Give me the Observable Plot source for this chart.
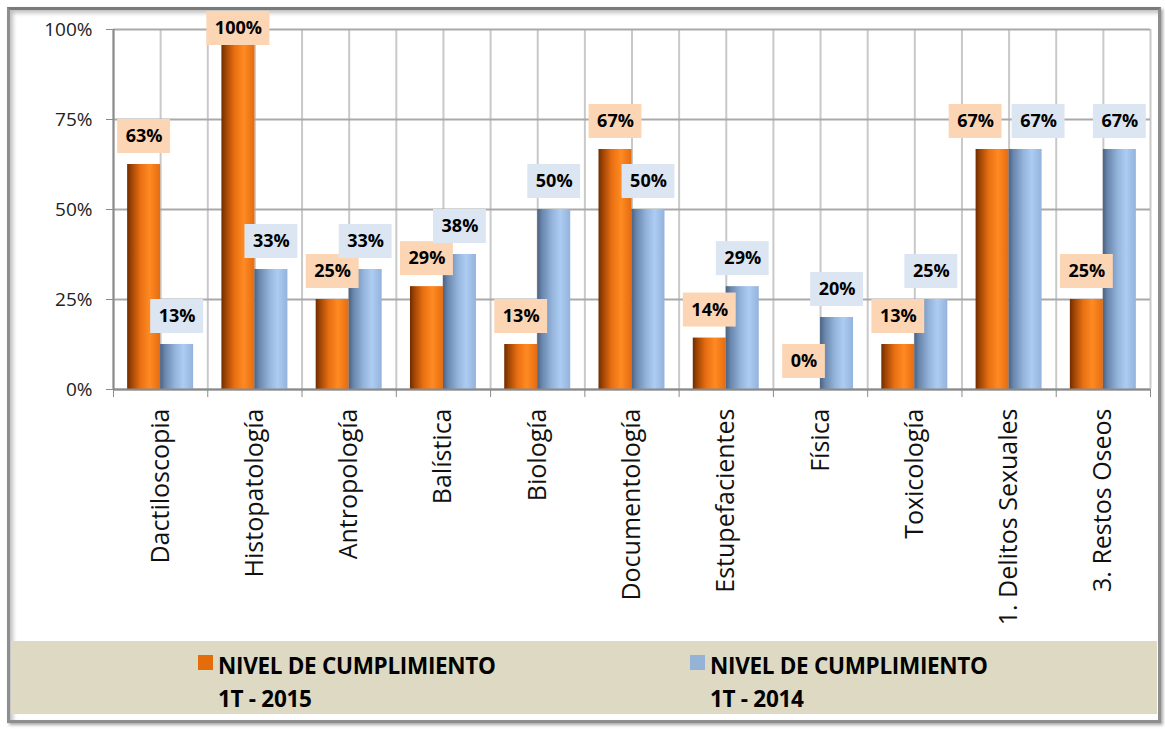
<!DOCTYPE html>
<html>
<head>
<meta charset="utf-8">
<script src="https://cdn.jsdelivr.net/npm/d3@7"></script>
<script src="https://cdn.jsdelivr.net/npm/@observablehq/plot@0.6"></script>
<style>
  html, body { margin: 0; padding: 0; background: #fff; }
  #page { position: relative; width: 1165px; height: 729px; overflow: hidden; font-family: "Open Sans", sans-serif; }
  #frame { position: absolute; left: 7px; top: 7px; width: 1148px; height: 710px; border: 3px solid #8e8e8e; border-top-color: #7a7a7a; box-shadow: inset 3px 3px 4px rgba(0,0,0,0.25), 2px 2px 3px rgba(0,0,0,0.35); background: #fff; }
  #chart { position: absolute; left: 0; top: 0; }
  #legend { position: absolute; left: 11px; top: 641px; width: 1146px; height: 73px; background: #DDD9C3; }
  .item { position: absolute; top: 8px; font-weight: 700; font-size: 22.5px; color: #000; line-height: 33px; letter-spacing: -0.3px; }
  .sw { position: absolute; left: -20px; top: 6px; width: 15px; height: 15px; }
</style>
</head>
<body>
<div id="page">
  <div id="frame"></div>
  <div id="chart"></div>
  <div id="legend"></div>
</div>
<script>
const categories = ["Dactiloscopia", "Histopatología", "Antropología", "Balística", "Biología", "Documentología", "Estupefacientes", "Física", "Toxicología", "1. Delitos Sexuales", "3. Restos Oseos"];
const values2015 = [62.5, 100, 25, 28.57, 12.5, 66.67, 14.29, 0, 12.5, 66.67, 25];
const values2014 = [12.5, 33.33, 33.33, 37.5, 50, 50, 28.57, 20, 25, 66.67, 66.67];
const seriesNames = [["NIVEL DE CUMPLIMIENTO", "1T - 2015"], ["NIVEL DE CUMPLIMIENTO", "1T - 2014"]];
const seriesColors = ["#E46C0A", "#95B3D7"];
const boxColors = ["#FCD5B4", "#DCE6F2"];
const yTicks = [0, 25, 50, 75, 100];

const W = 1165, H = 640, ML = 113, MR = 15, MT = 29, MB = 251;
const FONT = "Open Sans, sans-serif";
const n = categories.length;
const pxX = (W - ML - MR) / n;   // pixels per category unit
const pxY = (H - MT - MB) / 100; // pixels per percent

const bars = [];
categories.forEach((c, i) => {
  bars.push({i, s: 0, v: values2015[i], x1: i + 0.15, x2: i + 0.5});
  bars.push({i, s: 1, v: values2014[i], x1: i + 0.5, x2: i + 0.85});
});

// data label boxes
const boxH = 34, gap = 11, padX = 8, maxTopPx = 18;
function textW(t) { return (t.length - 1) * 10.2 + 16.5; }
const labels = bars.map(b => {
  const t = Math.round(b.v) + "%";
  const w = textW(t) + 2 * padX;
  let y1 = b.v + gap / pxY, y2 = y1 + boxH / pxY;
  const lim = 100 + maxTopPx / pxY;
  if (y2 > lim) { y2 = lim; y1 = y2 - boxH / pxY; }
  const cx = (b.x1 + b.x2) / 2;
  return {i: b.i, s: b.s, t, w, y1, y2, cx};
});
for (let i = 0; i < n; i++) {
  const o = labels.find(l => l.i === i && l.s === 0);
  const bl = labels.find(l => l.i === i && l.s === 1);
  const overlap = Math.min(o.y2, bl.y2) - Math.max(o.y1, bl.y1);
  if (overlap * pxY > boxH / 2) { o.cx -= 17 / pxX; bl.cx += 13 / pxX; }
}
labels.forEach(l => { l.bx1 = l.cx - l.w / 2 / pxX; l.bx2 = l.cx + l.w / 2 / pxX; l.cy = (l.y1 + l.y2) / 2; });

const defs = () => {
  const d = d3.create("svg:defs");
  const g1 = d.append("linearGradient").attr("id", "gOrange").attr("x1", 0).attr("x2", 1).attr("y1", 0).attr("y2", 0);
  [[0, "#6f2c00"], [0.12, "#9c4304"], [0.4, "#e96f12"], [0.68, "#ff8a22"], [1, "#e56c10"]].forEach(([o, c]) => g1.append("stop").attr("offset", o).attr("stop-color", c));
  const g2 = d.append("linearGradient").attr("id", "gBlue").attr("x1", 0).attr("x2", 1).attr("y1", 0).attr("y2", 0);
  [[0, "#4b6282"], [0.15, "#6a87ad"], [0.45, "#94b4dc"], [0.7, "#acccf2"], [1, "#93b3dd"]].forEach(([o, c]) => g2.append("stop").attr("offset", o).attr("stop-color", c));
  return d.node();
};

const halfLines = d3.range(0, 2 * n + 1).map(k => k / 2);

const chart = Plot.plot({
  width: W, height: H,
  marginLeft: ML, marginRight: MR, marginTop: MT, marginBottom: MB,
  style: {background: "transparent", color: "#222", fontFamily: FONT, overflow: "visible"},
  x: {type: "linear", domain: [0, n], axis: null},
  y: {domain: [0, 100], axis: null},
  marks: [
    defs,
    Plot.ruleX(halfLines, {stroke: "#c9c9c9", strokeWidth: 2}),
    Plot.ruleY(yTicks, {stroke: "#a9a9a9", strokeWidth: 2}),
    Plot.rectY(bars.filter(b => b.s === 0), {x1: "x1", x2: "x2", y1: 0, y2: "v", fill: "url(#gOrange)"}),
    Plot.rectY(bars.filter(b => b.s === 1), {x1: "x1", x2: "x2", y1: 0, y2: "v", fill: "url(#gBlue)"}),
    Plot.ruleX([0], {stroke: "#8a8a8a", strokeWidth: 2}),
    Plot.ruleY([0], {stroke: "#8a8a8a", strokeWidth: 2}),
    Plot.axisY({ticks: yTicks, tickFormat: d => d + "%", tickSize: 7, tickPadding: 14, stroke: "#8a8a8a", fontSize: 19, fontFamily: FONT, label: null}),
    Plot.axisX({ticks: d3.range(0, n + 1), tickFormat: () => "", tickSize: 8, stroke: "#8a8a8a", label: null}),
    Plot.axisX({ticks: categories.map((c, i) => i + 0.5), tickFormat: d => categories[Math.floor(d)], tickSize: 0, tickPadding: 19, tickRotate: -90, fontSize: 25, fontFamily: FONT, fill: "#111", label: null}),
    Plot.rect(labels.filter(l => l.s === 0), {x1: "bx1", x2: "bx2", y1: "y1", y2: "y2", fill: boxColors[0]}),
    Plot.rect(labels.filter(l => l.s === 1), {x1: "bx1", x2: "bx2", y1: "y1", y2: "y2", fill: boxColors[1]}),
    Plot.text(labels, {x: "cx", y: "cy", text: "t", fontSize: 18, fontWeight: "bold", fontFamily: FONT, fill: "#000"})
  ]
});
document.getElementById("chart").appendChild(chart);

// legend
const legend = d3.select("#legend");
const lefts = [207, 699];
seriesNames.forEach((nm, k) => {
  const it = legend.append("div").attr("class", "item").style("left", lefts[k] + "px");
  it.append("div").attr("class", "sw").style("background", seriesColors[k]);
  it.append("div").text(nm[0]);
  it.append("div").text(nm[1]);
});
</script>
</body>
</html>
